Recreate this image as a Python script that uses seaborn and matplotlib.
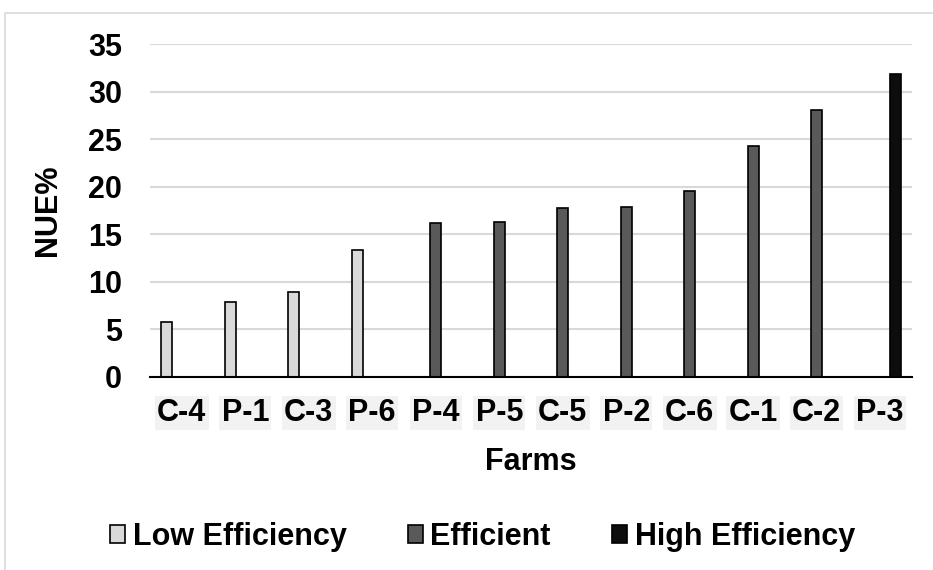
import matplotlib
matplotlib.use("Agg")
import matplotlib.pyplot as plt
from matplotlib.patches import Rectangle
import seaborn as sns
import pandas as pd

# Values
farms = ["C-4", "P-1", "C-3", "P-6", "P-4", "P-5", "C-5", "P-2", "C-6", "C-1", "C-2", "P-3"]
nue = [5.8, 7.9, 8.9, 13.4, 16.2, 16.3, 17.8, 17.9, 19.5, 24.3, 28.1, 31.8]
groups = ["Low Efficiency"] * 4 + ["Efficient"] * 7 + ["High Efficiency"]
group_order = ["Low Efficiency", "Efficient", "High Efficiency"]
group_colors = ["#D9D9D9", "#595959", "#0D0D0D"]

df = pd.DataFrame({"Farm": farms, "NUE": nue, "Group": groups})

sns.set_style("white")
plt.rcParams["font.family"] = ["Liberation Sans", "DejaVu Sans"]
plt.rcParams["font.weight"] = "bold"
for key in ["text.color", "axes.labelcolor", "xtick.color", "ytick.color"]:
    plt.rcParams[key] = "black"

fig = plt.figure(figsize=(9.33, 5.70), dpi=100)
ax = fig.add_axes([150 / 933, 1 - 377 / 570, 762 / 933, 333 / 570])

sns.barplot(data=df, x="Farm", y="NUE", hue="Group", order=farms,
            hue_order=group_order, palette=group_colors, dodge=True,
            width=0.7, gap=0.26, edgecolor="black", linewidth=1.2,
            saturation=1, ax=ax, zorder=3)

ax.set_ylim(0, 35)
ax.set_yticks(range(0, 36, 5))
ax.grid(axis="y", color="#D9D9D9", linewidth=1.5, zorder=0)
ax.grid(axis="x", visible=False)
sns.despine(ax=ax, left=True, top=True, right=True)
ax.spines["bottom"].set_color("black")
ax.spines["bottom"].set_linewidth(1.5)
ax.spines["bottom"].set_zorder(4)

ax.tick_params(axis="y", length=0, pad=20, labelsize=22)
ax.tick_params(axis="x", length=0, pad=15, labelsize=22)
for lbl in ax.get_xticklabels():
    lbl.set_fontweight("bold")
    lbl.set_bbox(dict(facecolor="#F2F2F2", edgecolor="none", pad=1.5))
for lbl in ax.get_yticklabels():
    lbl.set_fontweight("bold")

ax.set_xlabel("Farms", fontsize=22, fontweight="bold", labelpad=14)
ax.set_ylabel("NUE%", fontsize=22, fontweight="bold", labelpad=18)

handles, labels = ax.get_legend_handles_labels()
ax.get_legend().remove()
fig.legend(handles, labels, loc="center", bbox_to_anchor=(0.517, 1 - 537 / 570),
           ncol=3, frameon=False, handlelength=0.5,
           handleheight=0.5, handletextpad=0.25, columnspacing=2.0,
           prop={"weight": "bold", "size": 22})

# light outer chart border
fig.patches.append(Rectangle((5 / 933, -0.1), 2, 1 - 13 / 570 + 0.1,
                             transform=fig.transFigure, fill=False,
                             edgecolor="#D9D9D9", linewidth=1.2))

fig.savefig("out.png", dpi=100)
